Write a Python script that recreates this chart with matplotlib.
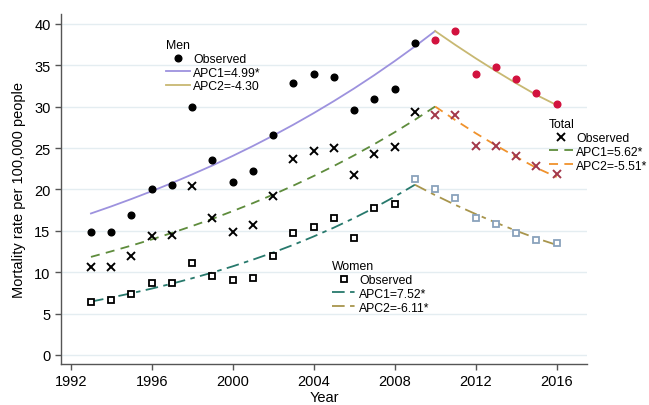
import matplotlib
matplotlib.use("Agg")
import matplotlib.pyplot as plt
from matplotlib.lines import Line2D

plt.rcParams['font.family'] = ['Liberation Sans', 'DejaVu Sans']

years = list(range(1993, 2017))

# Observed values
men_obs = [14.9, 14.8, 16.9, 20.1, 20.5, 30.0, 23.5, 20.9, 22.2, 26.6, 32.9, 33.9,
           33.6, 29.6, 30.9, 32.1, 37.7, 38.1, 39.2, 34.0, 34.8, 33.4, 31.6, 30.3]
total_obs = [10.6, 10.6, 12.0, 14.4, 14.5, 20.4, 16.6, 14.9, 15.7, 19.2, 23.7, 24.6,
             25.0, 21.7, 24.3, 25.1, 29.3, 29.0, 29.0, 25.3, 25.3, 24.0, 22.8, 21.9]
women_obs = [6.45, 6.7, 7.4, 8.7, 8.65, 11.1, 9.6, 9.0, 9.3, 12.0, 14.7, 15.5,
             16.6, 14.1, 17.8, 18.2, 21.3, 20.0, 19.0, 16.6, 15.8, 14.7, 13.9, 13.5]

# Fitted joinpoint segments
men_fit1_years = list(range(1993, 2011))
men_fit1 = [17.1, 17.95, 18.85, 19.79, 20.78, 21.82, 22.90, 24.05, 25.25, 26.51,
            27.83, 29.22, 30.68, 32.21, 33.82, 35.51, 37.28, 39.14]
men_fit2_years = list(range(2010, 2017))
men_fit2 = [39.14, 37.46, 35.85, 34.31, 32.83, 31.42, 30.2]

total_fit1_years = list(range(1993, 2011))
total_fit1 = [11.85, 12.52, 13.22, 13.96, 14.75, 15.58, 16.45, 17.38, 18.35, 19.38,
              20.47, 21.62, 22.84, 24.12, 25.48, 26.91, 28.42, 30.02]
total_fit2_years = list(range(2010, 2017))
total_fit2 = [30.02, 28.37, 26.80, 25.33, 23.93, 22.61, 21.5]

women_fit1_years = list(range(1993, 2010))
women_fit1 = [6.45, 6.94, 7.46, 8.02, 8.62, 9.27, 9.96, 10.71, 11.52, 12.38,
              13.31, 14.32, 15.39, 16.55, 17.79, 19.13, 20.57]
women_fit2_years = list(range(2009, 2017))
women_fit2 = [20.57, 19.31, 18.13, 17.03, 15.99, 15.01, 14.10, 13.3]

men_break, total_break, women_break = 2010, 2010, 2009

yticks = [0, 5, 10, 15, 20, 25, 30, 35, 40]
xticks = [1992, 1996, 2000, 2004, 2008, 2012, 2016]

c_men1, c_men2 = '#9d92de', '#c8b872'
c_tot1, c_tot2 = '#5e8c3c', '#f0922c'
c_wom1, c_wom2 = '#27796c', '#a8954c'
c_red, c_redx, c_sq = '#d2123e', '#a3384a', '#8aa2bc'

fig = plt.figure(figsize=(6.49, 4.06), dpi=100)
ax = fig.add_axes([61/649, 1-365/406, (587-61)/649, (365-15)/406])

ax.set_xlim(1991.52, 2017.5)
ax.set_ylim(-1.09, 41.2)
ax.set_yticks(yticks)
ax.set_xticks(xticks)
for y in yticks:
    ax.axhline(y, color='#e4edf1', lw=1.0, zorder=0)

tdash = (0, (5, 3.5))
wdash = (0, (7, 3, 2.5, 3))

ax.plot(men_fit1_years, men_fit1, color=c_men1, lw=1.3, zorder=2)
ax.plot(men_fit2_years, men_fit2, color=c_men2, lw=1.3, zorder=2)
ax.plot(total_fit1_years, total_fit1, color=c_tot1, lw=1.3, ls=tdash, zorder=2)
ax.plot(total_fit2_years, total_fit2, color=c_tot2, lw=1.3, ls=tdash, zorder=2)
ax.plot(women_fit1_years, women_fit1, color=c_wom1, lw=1.3, ls=wdash, zorder=2)
ax.plot(women_fit2_years, women_fit2, color=c_wom2, lw=1.3, ls=wdash, zorder=2)

for yr, v in zip(years, men_obs):
    ax.plot(yr, v, 'o', ms=4.8, color=('black' if yr < men_break else c_red), zorder=3)
for yr, v in zip(years, total_obs):
    ax.plot(yr, v, 'x', ms=5.5, mew=1.4, color=('black' if yr < total_break else c_redx), zorder=3)
for yr, v in zip(years, women_obs):
    ax.plot(yr, v, 's', ms=5.0, mfc='white', mew=1.3,
            mec=('black' if yr < women_break else c_sq), zorder=3)

for s in ['top', 'right']:
    ax.spines[s].set_visible(False)
for s in ['left', 'bottom']:
    ax.spines[s].set_color('#555555')
    ax.spines[s].set_linewidth(1.0)
ax.tick_params(axis='both', colors='#555555', labelcolor='black', labelsize=10.5, length=4, width=1)
ax.set_xlabel('Year', fontsize=10.5, labelpad=1)
ax.set_ylabel('Mortality rate per 100,000 people', fontsize=10.5, labelpad=6)

def make_legend(title, handles, labels, loc_px):
    x, y = loc_px
    leg = fig.legend(handles, labels, title=title, loc='upper left',
                     bbox_to_anchor=(x/649, 1-y/406), frameon=False, fontsize=8.8,
                     title_fontsize=8.8, alignment='left', handlelength=2.0,
                     handletextpad=0.22, labelspacing=0.15, borderpad=0.0,
                     borderaxespad=0.0)
    return leg

h_men = [Line2D([], [], marker='o', ls='none', color='black', ms=4.8),
         Line2D([], [], color=c_men1, lw=1.3),
         Line2D([], [], color=c_men2, lw=1.3)]
make_legend('Men', h_men, ['Observed', 'APC1=4.99*', 'APC2=-4.30'], (166, 40))

h_tot = [Line2D([], [], marker='x', ls='none', color='black', ms=5.5, mew=1.4),
         Line2D([], [], color=c_tot1, lw=1.3, ls=tdash),
         Line2D([], [], color=c_tot2, lw=1.3, ls=tdash)]
make_legend('Total', h_tot, ['Observed', 'APC1=5.62*', 'APC2=-5.51*'], (549, 119))

h_wom = [Line2D([], [], marker='s', ls='none', mfc='white', mec='black', ms=5.0, mew=1.3),
         Line2D([], [], color=c_wom1, lw=1.3, ls=wdash),
         Line2D([], [], color=c_wom2, lw=1.3, ls=wdash)]
make_legend('Women', h_wom, ['Observed', 'APC1=7.52*', 'APC2=-6.11*'], (332, 261))

fig.savefig('out.png', dpi=100)
